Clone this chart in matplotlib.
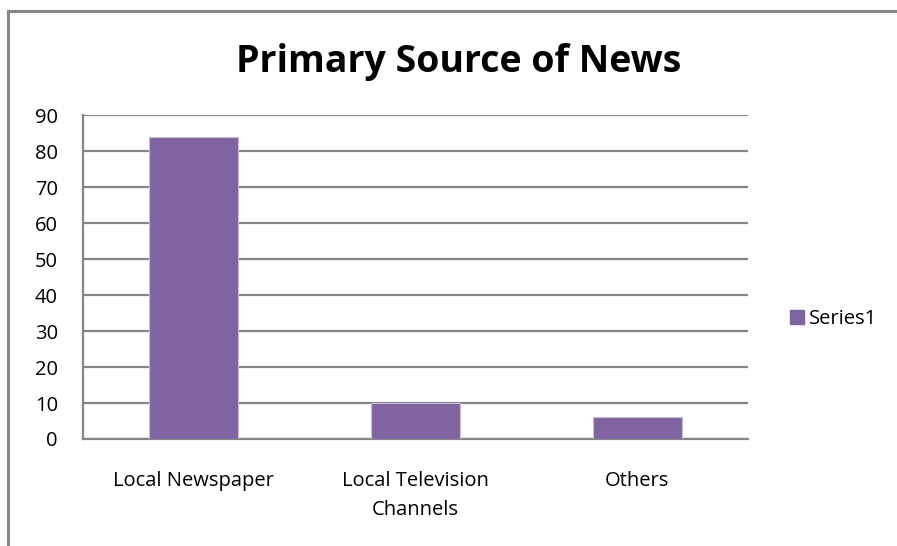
import matplotlib
matplotlib.use("Agg")
import matplotlib.pyplot as plt
from matplotlib.lines import Line2D

categories = ["Local Newspaper", "Local Television\nChannels", "Others"]
values = [84, 10, 6]
series_name = "Series1"
yticks = [0, 10, 20, 30, 40, 50, 60, 70, 80, 90]

plt.rcParams['font.family'] = ['Open Sans', 'DejaVu Sans']

fig = plt.figure(figsize=(8.97, 5.46), dpi=100)
ax = fig.add_axes([0.0925, 0.196, 0.7415, 0.593])

x = range(len(categories))
bars = ax.bar(x, values, width=0.4, color="#8064A2", edgecolor="#c9bdd9",
              linewidth=0.8, zorder=3, label=series_name)

ax.set_xlim(-0.5, len(categories) - 0.5)
ax.set_ylim(0, 90)
ax.set_yticks(yticks)
ax.set_yticklabels([str(v) for v in yticks], fontsize=14.5)
ax.set_xticks(list(x))
ax.set_xticklabels(categories, fontsize=14.5, linespacing=1.6)
ax.tick_params(axis="both", length=0)
ax.tick_params(axis="x", pad=23)
ax.tick_params(axis="y", pad=18)
ax.grid(axis="y", color="#868686", linewidth=1.6, zorder=0)

for side in ["top", "right"]:
    ax.spines[side].set_visible(False)
ax.spines["left"].set_color("#868686")
ax.spines["left"].set_linewidth(1.6)
ax.spines["bottom"].set_color("#868686")
ax.spines["bottom"].set_linewidth(1.6)

fig.text(0.511, 0.886, "Primary Source of News", ha="center", va="center",
         fontsize=27, fontweight="bold")

handle = Line2D([], [], marker="s", linestyle="none", markersize=10,
                color="#8064A2")
fig.legend([handle], [series_name], loc="center left",
           bbox_to_anchor=(0.857, 0.415), frameon=False, fontsize=14.5,
           handletextpad=0.1, handlelength=1.0)

# outer chart border (left and top visible)
fig.add_artist(Line2D([0.009, 0.009], [0.0, 0.98], color="#868686", linewidth=2.2,
                      transform=fig.transFigure))
fig.add_artist(Line2D([0.009, 1.0], [0.98, 0.98], color="#868686", linewidth=2.2,
                      transform=fig.transFigure))

fig.savefig("out.png", dpi=100)
